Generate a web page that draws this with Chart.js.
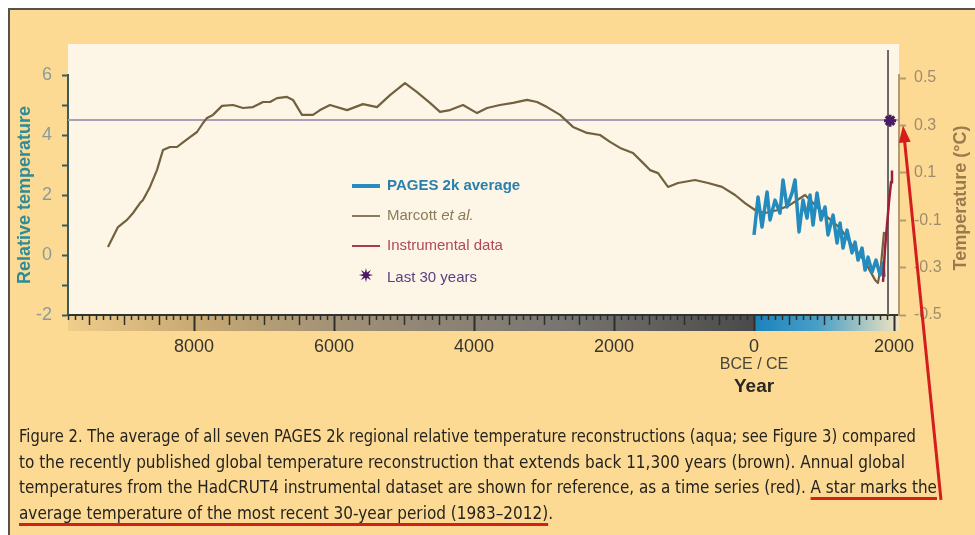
<!DOCTYPE html>
<html>
<head>
<meta charset="utf-8">
<script src="https://cdn.jsdelivr.net/npm/chart.js@4.4.1/dist/chart.umd.min.js"></script>
<style>
  html, body { margin: 0; padding: 0; background: #fff; }
  #page { position: relative; width: 975px; height: 535px; overflow: hidden; background: #fff; }
  #frame { position: absolute; left: 8px; top: 8px; width: 990px; height: 560px;
           background: #fcda93; border-left: 2px solid #55524a; border-top: 2px solid #55524a; }
  #plot { position: absolute; left: 0; top: 0; width: 975px; height: 535px; }
  #legend { position: absolute; left: 352px; top: 175px; font: 15px 'Liberation Sans', Arial, sans-serif; }
  #legend .row { position: absolute; left: 0; height: 20px; line-height: 20px; white-space: nowrap; }
  #legend .sw { display: inline-block; width: 28px; vertical-align: middle; margin-right: 7px; }
  #legend .star { display: inline-block; width: 28px; margin-right: 7px; text-align: center;
                  font-family: 'DejaVu Sans', sans-serif; font-size: 19px; color: #4a1b63; }
  #caption { position: absolute; left: 19px; top: 424px; color: #24231f;
             font: 17px 'Liberation Sans Narrow', 'DejaVu Sans Condensed', 'Liberation Sans', sans-serif; }
  #caption .cap { height: 25.5px; line-height: 25.5px; white-space: nowrap; }
  #caption .cap span { display: inline-block; transform-origin: 0 50%; }
  #caption u { text-decoration-color: #d3201c; text-decoration-thickness: 2.5px; text-underline-offset: 4px; }
</style>
</head>
<body>
<div id="page">
  <div id="frame"></div>
  <div id="plot"><canvas id="chart"></canvas></div>
  <div id="legend">
    <div class="row" style="top:0px"><span class="sw" style="height:4px;background:#2a8cbc"></span><b style="color:#2a80aa">PAGES 2k average</b></div>
    <div class="row" style="top:30px"><span class="sw" style="height:2px;background:#8a7a58"></span><span style="color:#8c7b55">Marcott <i>et al.</i></span></div>
    <div class="row" style="top:60px"><span class="sw" style="height:2px;background:#a83a4c"></span><span style="color:#b0485a">Instrumental data</span></div>
    <div class="row" style="top:90px"><span class="star">✷</span><span style="color:#5c3d80">Last 30 years</span></div>
  </div>
  <div id="caption">
    <div class="cap"><span>Figure 2. The average of all seven PAGES 2k regional relative temperature reconstructions (aqua; see Figure 3) compared</span></div>
    <div class="cap"><span>to the recently published global temperature reconstruction that extends back 11,300 years (brown). Annual global</span></div>
    <div class="cap"><span>temperatures from the HadCRUT4 instrumental dataset are shown for reference, as a time series (red). <u>A star marks the</u></span></div>
    <div class="cap"><span><u>average temperature of the most recent 30-year period (1983–2012)</u>.</span></div>
  </div>
</div>
<script>
// Marcott et al. global reconstruction (year, relative temperature)
const marcottYears = [-9229, -9129, -9086, -8957, -8871, -8771, -8729, -8629, -8529, -8443,
  -8343, -8243, -8171, -8057, -7957, -7871, -7814, -7729, -7600, -7443,
  -7300, -7157, -7014, -6914, -6814, -6671, -6586, -6457, -6300, -6200,
  -6057, -5814, -5586, -5386, -5200, -4986, -4814, -4629, -4486, -4343,
  -4157, -3957, -3814, -3629, -3443, -3243, -3100, -2957, -2771, -2586,
  -2386, -2200, -2057, -1914, -1729, -1586, -1486, -1371, -1229, -1086,
  -843, -657, -457, -271, -129, 14, 157, 343, 514, 729,
  871, 1014, 1229, 1400, 1586, 1729, 1771, 1814, 1857];
const marcottValues = [0.27, 0.73, 0.93, 1.17, 1.40, 1.73, 1.83, 2.27, 2.83, 3.50,
  3.60, 3.60, 3.73, 3.93, 4.10, 4.40, 4.57, 4.67, 4.97, 5.00,
  4.90, 4.93, 5.10, 5.10, 5.23, 5.27, 5.17, 4.67, 4.67, 4.83,
  5.00, 4.83, 5.03, 4.93, 5.33, 5.73, 5.43, 5.07, 4.77, 4.83,
  5.00, 4.73, 4.90, 5.00, 5.07, 5.17, 5.10, 4.93, 4.67, 4.27,
  4.07, 4.00, 3.77, 3.57, 3.40, 3.07, 2.83, 2.73, 2.27, 2.40,
  2.50, 2.40, 2.27, 2.00, 1.73, 1.50, 1.40, 1.50, 1.67, 2.00,
  1.67, 1.33, 0.90, 0.33, -0.23, -0.83, -0.93, -0.33, 0.77];

// PAGES 2k average (year, relative temperature)
const pagesYears = [0, 57, 114, 186, 229, 300, 371, 414, 471, 543,
  586, 643, 700, 757, 800, 843, 900, 957, 1014, 1057,
  1129, 1186, 1229, 1271, 1329, 1400, 1443, 1486, 1543, 1586,
  1629, 1686, 1743, 1800, 1843, 1857];
const pagesValues = [0.67, 1.93, 0.93, 2.10, 1.17, 1.83, 1.40, 2.50, 1.60, 2.07,
  2.50, 0.77, 1.83, 1.23, 2.00, 1.00, 2.07, 1.17, 1.60, 0.67,
  1.33, 0.40, 1.07, 0.23, 0.83, 0.07, 0.43, -0.17, 0.23, -0.50,
  -0.07, -0.57, -0.17, -0.67, -0.27, -0.73];

// HadCRUT4 instrumental (year, °C)
const instrumentalYears = [1843, 1871, 1900, 1929, 1957, 1971];
const instrumentalValues = [-0.36, -0.22, -0.12, -0.02, 0.06, 0.11];

// last 30 years star (°C) and reference levels
const starYear = 1943;
const starValue = 0.32;
const refLevel = 4.5;          // relative temperature of the star level
const dividerYear = 1914;
const dividerRange = [-2, 6.83];

// axes
const xMin = -9800, xMax = 2071;
const xTicks = [-8000, -6000, -4000, -2000, 0, 2000];
const leftTicks = [-2, -1, 0, 1, 2, 3, 4, 5, 6];
const rightTicks = [-0.5, -0.3, -0.1, 0.1, 0.3, 0.5];

const FONT = "'Liberation Sans', Arial, sans-serif";
Chart.defaults.font.family = FONT;

const pts = (xs, ys) => xs.map((v, i) => ({ x: v, y: ys[i] }));

// backdrop panel, time bar, small ticks, labels and red annotation
const decor = {
  id: 'decor',
  beforeDraw(chart) {
    const { ctx, chartArea: a, scales: { x } } = chart;
    ctx.save();
    ctx.fillStyle = '#fdf6e7';
    ctx.fillRect(a.left, 44, a.right - a.left, a.bottom - 44);

    const zero = x.getPixelForValue(0);
    let g = ctx.createLinearGradient(a.left, 0, zero, 0);
    g.addColorStop(0, '#efcd8b');
    g.addColorStop(0.18, '#c9aa72');
    g.addColorStop(0.4, '#a09077');
    g.addColorStop(0.72, '#777571');
    g.addColorStop(1, '#4a4a4a');
    ctx.fillStyle = g;
    ctx.fillRect(a.left, a.bottom, zero - a.left, 16);
    g = ctx.createLinearGradient(zero, 0, a.right, 0);
    g.addColorStop(0, '#1a82bb');
    g.addColorStop(0.45, '#4aa0c6');
    g.addColorStop(1, '#f1e4c0');
    ctx.fillStyle = g;
    ctx.fillRect(zero, a.bottom, a.right - zero, 16);
    ctx.restore();
  },
  afterDraw(chart) {
    const { ctx, chartArea: a, scales: { x, y1 } } = chart;
    ctx.save();
    // minor ticks every 100 years, medium every 500
    ctx.strokeStyle = '#2e2e2a';
    ctx.lineWidth = 1.5;
    for (let v = -9800; v <= 2000; v += 100) {
      if (v % 2000 === 0) continue;
      const len = v % 500 === 0 ? 10 : 5;
      const px = Math.round(x.getPixelForValue(v)) + 0.5;
      ctx.beginPath();
      ctx.moveTo(px, a.bottom);
      ctx.lineTo(px, a.bottom + len);
      ctx.stroke();
    }

    // era + axis name under zero
    const zero = x.getPixelForValue(0);
    ctx.textAlign = 'center';
    ctx.textBaseline = 'middle';
    ctx.fillStyle = '#48463c';
    ctx.font = '16px ' + FONT;
    ctx.fillText('BCE / CE', zero, 365);
    ctx.fillStyle = '#2a2820';
    ctx.font = 'bold 19px ' + FONT;
    ctx.fillText('Year', zero, 387);

    // right axis title, reading upward
    ctx.save();
    ctx.translate(961, (a.top + a.bottom) / 2 + 3);
    ctx.rotate(-Math.PI / 2);
    ctx.fillStyle = '#9b7b4c';
    ctx.font = 'bold 18px ' + FONT;
    ctx.fillText('Temperature (°C)', 0, 0);
    ctx.restore();

    // red arrow pointing at the star level
    const tipX = a.right + 4;
    const tipY = y1.getPixelForValue(0.3);
    const tailX = 941, tailY = 500;
    const ang = Math.atan2(tipY - tailY, tipX - tailX);
    ctx.strokeStyle = '#d51d1d';
    ctx.fillStyle = '#d51d1d';
    ctx.lineWidth = 3;
    ctx.beginPath();
    ctx.moveTo(tailX, tailY);
    ctx.lineTo(tipX - 12 * Math.cos(ang), tipY - 12 * Math.sin(ang));
    ctx.stroke();
    ctx.beginPath();
    ctx.moveTo(tipX, tipY);
    ctx.lineTo(tipX - 17 * Math.cos(ang) + 6 * Math.sin(ang), tipY - 17 * Math.sin(ang) - 6 * Math.cos(ang));
    ctx.lineTo(tipX - 17 * Math.cos(ang) - 6 * Math.sin(ang), tipY - 17 * Math.sin(ang) + 6 * Math.cos(ang));
    ctx.closePath();
    ctx.fill();
    ctx.restore();
  }
};

const ctx = document.getElementById('chart').getContext('2d');
new Chart(ctx, {
  type: 'line',
  data: {
    datasets: [
      {
        label: 'Last 30 years',
        data: [{ x: starYear, y: starValue }],
        yAxisID: 'y1',
        showLine: false,
        pointStyle: 'star',
        pointRadius: 6,
        borderWidth: 3,
        borderColor: '#4a1b63',
        backgroundColor: '#4a1b63'
      },
      {
        label: 'Instrumental data',
        data: pts(instrumentalYears, instrumentalValues),
        yAxisID: 'y1',
        borderColor: '#9a2038',
        borderWidth: 2.5,
        pointRadius: 0
      },
      {
        label: 'PAGES 2k average',
        data: pts(pagesYears, pagesValues),
        yAxisID: 'y',
        borderColor: '#238bbd',
        borderWidth: 3.5,
        borderJoinStyle: 'round',
        pointRadius: 0
      },
      {
        label: 'Marcott et al.',
        data: pts(marcottYears, marcottValues),
        yAxisID: 'y',
        borderColor: '#72603f',
        borderWidth: 2.2,
        borderJoinStyle: 'round',
        pointRadius: 0
      },
      {
        label: 'reference',
        data: [{ x: xMin, y: refLevel }, { x: xMax, y: refLevel }],
        yAxisID: 'y',
        borderColor: '#ab9db6',
        borderWidth: 2,
        pointRadius: 0
      },
      {
        label: 'divider',
        data: [{ x: dividerYear, y: dividerRange[0] }, { x: dividerYear, y: dividerRange[1] }],
        yAxisID: 'y',
        borderColor: '#6c6a66',
        borderWidth: 2,
        pointRadius: 0,
        clip: false
      }
    ]
  },
  options: {
    responsive: true,
    maintainAspectRatio: false,
    animation: false,
    layout: { padding: { left: 8, right: 0, top: 75, bottom: 180 } },
    plugins: { legend: { display: false }, tooltip: { enabled: false } },
    scales: {
      x: {
        type: 'linear',
        min: xMin,
        max: xMax,
        afterBuildTicks: s => { s.ticks = xTicks.map(v => ({ value: v })); },
        afterFit: s => { s.height = 40; },
        border: { color: '#35352f', width: 2 },
        grid: { drawOnChartArea: false, tickLength: 16, tickColor: '#2e2e2a', tickWidth: 2 },
        ticks: {
          autoSkip: false, maxRotation: 0, padding: 5,
          color: '#36342c', font: { size: 18 },
          callback: v => String(Math.abs(v))
        }
      },
      y: {
        position: 'left',
        min: -2,
        max: 6,
        afterBuildTicks: s => { s.ticks = leftTicks.map(v => ({ value: v })); },
        afterFit: s => { s.width = 60; },
        border: { color: '#3f5b58', width: 2 },
        grid: { drawOnChartArea: false, tickLength: 6, tickColor: '#3f5b58', tickWidth: 2 },
        ticks: {
          autoSkip: false, padding: 10,
          color: '#8a9c9a', font: { size: 18 },
          callback: v => (v % 2 === 0 ? String(v) : '')
        },
        title: {
          display: true, text: 'Relative temperature', color: '#2e8b98',
          font: { size: 18, weight: 'bold' }, padding: { top: 6, bottom: 0 }
        }
      },
      y1: {
        position: 'right',
        min: -0.5,
        max: 0.5127,
        afterBuildTicks: s => { s.ticks = rightTicks.map(v => ({ value: v })); },
        afterFit: s => { s.width = 76; },
        border: { color: '#b39c72', width: 2 },
        grid: { drawOnChartArea: false, tickLength: 7, tickColor: '#b39c72', tickWidth: 2 },
        ticks: {
          autoSkip: false, padding: 8,
          color: '#a08c6c', font: { size: 16 },
          callback: v => v.toFixed(1)
        }
      }
    }
  },
  plugins: [decor]
});

// stretch each caption line to the width it has in the figure
const captionRight = [916, 905, 937, 553];
document.querySelectorAll('#caption .cap span').forEach((el, i) => {
  const w = el.getBoundingClientRect().width;
  el.style.transform = 'scaleX(' + ((captionRight[i] - 19) / w).toFixed(4) + ')';
});
</script>
</body>
</html>
